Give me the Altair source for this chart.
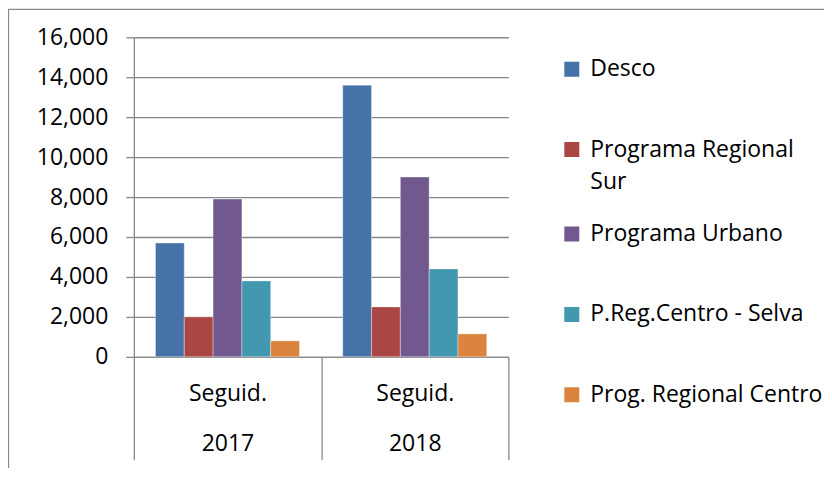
import altair as alt
import pandas as pd

# ---- data ----
years = ["2017", "2018"]
group_label = "Seguid."
series = [
    "Desco",
    "Programa Regional Sur",
    "Programa Urbano",
    "P.Reg.Centro - Selva",
    "Prog. Regional Centro",
]
values_2017 = [5700, 2000, 7900, 3800, 800]
values_2018 = [13600, 2500, 9000, 4400, 1150]
colors = ["#4572A7", "#AA4643", "#71588F", "#4198AF", "#DB843D"]
y_ticks = [0, 2000, 4000, 6000, 8000, 10000, 12000, 14000, 16000]
title_text = "Redes sociales / Facebook"
wrapped = {"Programa Regional Sur": ["Programa Regional", "Sur"]}

rows = []
for yr, vals in zip(years, [values_2017, values_2018]):
    for s, v in zip(series, vals):
        rows.append({"year": yr, "series": s, "value": v})
df = pd.DataFrame(rows)

FONT = "Open Sans"
GRAY = "#888888"

label_expr = " : ".join(
    [f"datum.label == '{k}' ? ['{v[0]}', '{v[1]}']" for k, v in wrapped.items()]
    + ["datum.label"]
)

bars = alt.Chart(df).mark_bar(
    stroke="white", strokeWidth=0.6, strokeOpacity=0.6
).encode(
    x=alt.X(
        "year:N",
        sort=years,
        scale=alt.Scale(paddingInner=0, paddingOuter=0),
        axis=alt.Axis(
            title=None,
            labelAngle=0,
            labelExpr=f"datum.label ? ['{group_label}', datum.label] : ''",
            labelFont=FONT,
            labelFontSize=23,
            labelColor="black",
            labelBaseline="alphabetic",
            labelLineHeight=50,
            labelPadding=-59,
            labelAlign="center",
            domain=True,
            domainColor=GRAY,
            domainWidth=1.3,
            ticks=True,
            tickBand="extent",
            tickSize=103,
            tickColor=GRAY,
            tickWidth=1.3,
            grid=False,
        ),
    ),
    xOffset=alt.XOffset(
        "series:N", sort=series, scale=alt.Scale(paddingInner=0, paddingOuter=0.75)
    ),
    y=alt.Y(
        "value:Q",
        scale=alt.Scale(domain=[0, 16000], nice=False),
        axis=alt.Axis(
            title=None,
            values=y_ticks,
            format=",d",
            labelFont=FONT,
            labelFontSize=23,
            labelColor="black",
            labelPadding=18,
            domain=True,
            domainColor=GRAY,
            domainWidth=1.3,
            ticks=True,
            tickSize=8,
            tickColor=GRAY,
            tickWidth=1.3,
            grid=True,
            gridColor=GRAY,
            gridWidth=1.3,
        ),
    ),
    color=alt.Color(
        "series:N",
        sort=series,
        scale=alt.Scale(domain=series, range=colors),
        legend=alt.Legend(
            title=None,
            orient="none",
            legendX=427,
            legendY=-8,
            symbolType="square",
            symbolSize=225,
            symbolStrokeWidth=0,
            labelFont=FONT,
            labelFontSize=23,
            labelColor="black",
            labelOffset=7,
            labelLimit=400,
            labelExpr=label_expr,
            clipHeight=80,
            rowPadding=0.5,
            padding=0,
        ),
    ),
)

frame_top = alt.Chart(alt.Data(values=[{}])).mark_rule(
    color=GRAY, strokeWidth=1.3
).encode(x=alt.value(-125.5), x2=alt.value(700), y=alt.value(-28))

frame_left = alt.Chart(alt.Data(values=[{}])).mark_rule(
    color=GRAY, strokeWidth=1.3
).encode(x=alt.value(-125.5), y=alt.value(-28), y2=alt.value(440))

chart = alt.layer(bars, frame_top, frame_left).properties(
    width=375,
    height=320,
    autosize=alt.AutoSizeParams(type="none"),
    padding={"left": 126, "top": 29, "right": 316, "bottom": 111},
    title=alt.TitleParams(
        title_text,
        font="Liberation Sans",
        fontSize=26,
        fontWeight="normal",
        color="black",
        anchor="middle",
        dx=106,
        baseline="alphabetic",
        offset=12,
    ),
).configure(
    view={"stroke": "transparent"},
    style={"guide-label": {"lineHeight": 32}},
)

chart.save("out.html", embed_options={"renderer": "svg", "actions": False})
